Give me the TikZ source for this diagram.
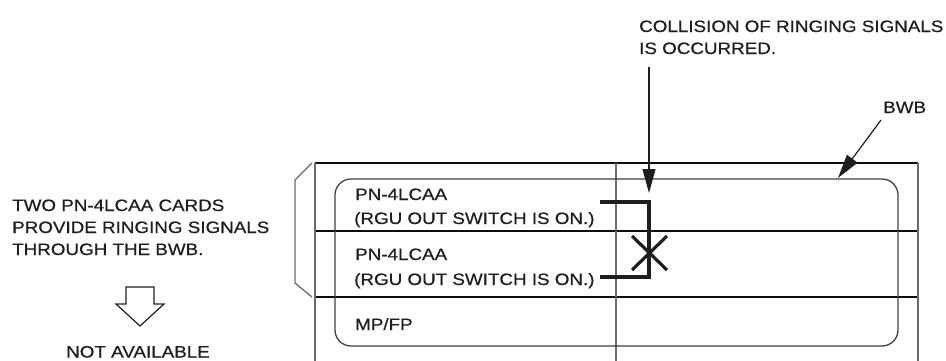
\documentclass[tikz,border=0pt]{standalone}
\usepackage{fontspec}
\setmainfont[FakeStretch=1.14,FakeBold=0.6]{Liberation Sans}
\usetikzlibrary{arrows.meta}
\definecolor{ink}{HTML}{1E1E1E}
\definecolor{frame}{HTML}{6A6A6A}
\begin{document}
\begin{tikzpicture}[x=1pt,y=-1pt,
  lbl/.style={anchor=base west,inner sep=0pt,font=\fontsize{16.5}{20}\selectfont,text=ink},
  hline/.style={draw=black!95,line width=1.2pt},
  vline/.style={draw=frame,line width=1.3pt},
  cardbox/.style={draw=black!75,line width=1.3pt,rounded corners=16pt},
  heavy/.style={draw=ink,line width=3.2pt},
  callout/.style={draw=ink,line width=1.2pt,-{Triangle[length=24pt,width=13pt]}}
]
\useasboundingbox (0,0) rectangle (946,360);

% left explanation
\node[lbl] (t1) at (12,211) {TWO PN-4LCAA CARDS};
\node[lbl] (t2) at (12,233) {PROVIDE RINGING SIGNALS};
\node[lbl] (t3) at (12,255) {THROUGH THE BWB.};
\draw[draw=ink,line width=1.2pt,line join=miter] (126,287) -- (154,287) -- (154,304) -- (164,304) -- (140,326) -- (116,304) -- (126,304) -- cycle;
\node[lbl,anchor=base] (na) at (138,357.5) {NOT AVAILABLE};

% bracket
\draw[vline] (312,163) -- (295,180) -- (295,283) -- (312,297);

% frame
\draw[hline] (315,163) -- (918,163);
\draw[hline] (315,231) -- (918,231);
\draw[hline] (315,297) -- (918,297);
\draw[vline] (315,163) -- (315,362);
\draw[vline] (616,163) -- (616,362);
\draw[vline] (918,163) -- (918,362);
\draw[cardbox] (335,179) rectangle (898,346);

% card texts
\node[lbl] (c1a) at (355,200) {PN-4LCAA};
\node[lbl] (c1b) at (354,224) {(RGU OUT SWITCH IS ON.)};
\node[lbl] (c2a) at (355,260) {PN-4LCAA};
\node[lbl] (c2b) at (354,285) {(RGU OUT SWITCH IS ON.)};
\node[lbl] (c3) at (355,330) {MP/FP};

% ringing paths and collision
\coordinate (p1) at (600,202);
\coordinate (p2) at (600,277);
\coordinate (j) at (649,202);
\coordinate (k) at (649,277);
\draw[heavy,line join=miter] (p1) -- (j) -- (k) -- (p2);
\coordinate (x1) at (632,236);
\coordinate (x2) at (667,270);
\coordinate (x3) at (667,236);
\coordinate (x4) at (632,270);
\draw[heavy] (x1) -- (x2);
\draw[heavy] (x3) -- (x4);

% collision label
\node[lbl] (col1) at (639,32) {COLLISION OF RINGING SIGNALS};
\node[lbl] (col2) at (639,54) {IS OCCURRED.};
\coordinate (colS) at (649,67);
\coordinate (colT) at (649,193);
\draw[callout] (colS) -- (colT);

% BWB label
\node[lbl] (bwb) at (883,113) {BWB};
\coordinate (bwbS) at (881,120);
\coordinate (bwbT) at (838,178);
\draw[callout] (bwbS) -- (bwbT);
\end{tikzpicture}
\end{document}
